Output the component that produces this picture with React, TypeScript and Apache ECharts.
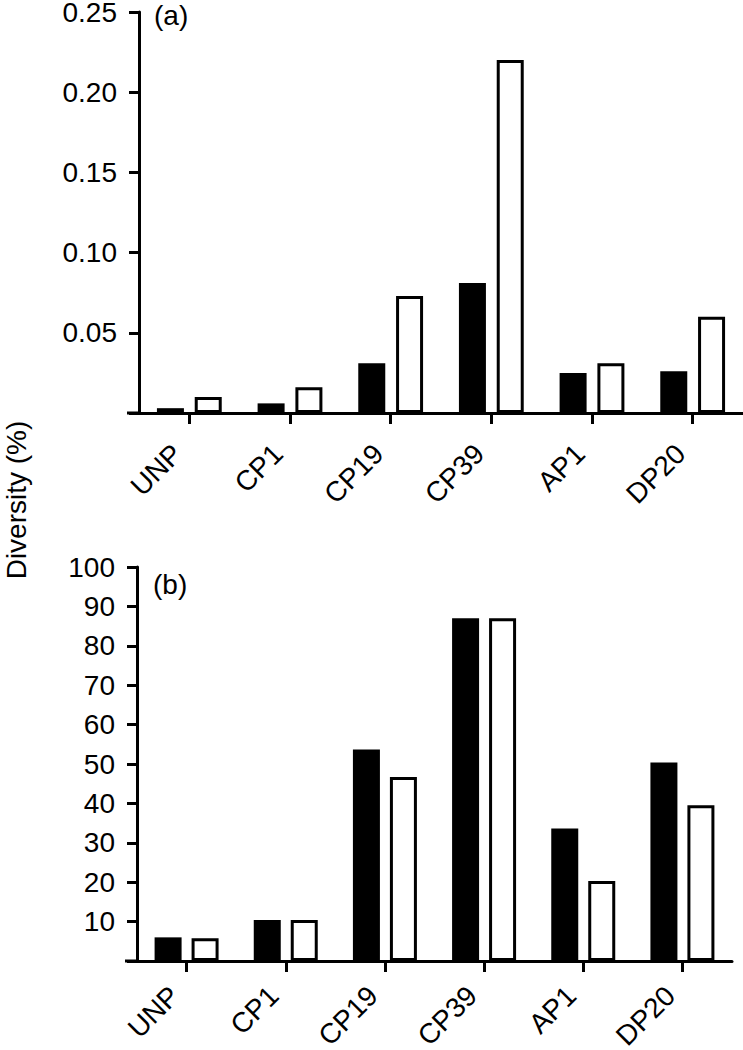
import React, { useEffect, useRef } from "react";
import * as echarts from "echarts";

const categories = ["UNP", "CP1", "CP19", "CP39", "AP1", "DP20"];
const topBlack = [0.003, 0.006, 0.031, 0.081, 0.025, 0.026];
const topWhite = [0.010, 0.016, 0.073, 0.220, 0.031, 0.060];
const bottomBlack = [6, 10.4, 53.7, 87, 33.6, 50.4];
const bottomWhite = [5.8, 10.4, 46.7, 87, 20.3, 39.5];

const FONT = "'Liberation Sans', Arial, Helvetica, sans-serif";
const FS = 28;

export default function App() {
  const ref = useRef<HTMLDivElement>(null);
  useEffect(() => {
    if (!ref.current) return;
    const chart = echarts.init(ref.current, null, { renderer: "svg" });
    const axisLine = { show: true, lineStyle: { color: "#000", width: 3 } };
    const xAxisCommon = {
      type: "category" as const,
      data: categories,
      axisLine,
      axisTick: { show: true, alignWithLabel: true, length: 11, lineStyle: { color: "#000", width: 3 } },
      splitLine: { show: false },
    };
    const xLabel = (margin: number) => ({
      rotate: 45,
      margin,
      padding: [0, 17, 0, 0],
      lineHeight: 24,
      color: "#000",
      fontSize: FS,
      fontFamily: FONT,
      interval: 0,
    });
    const yAxisCommon = {
      type: "value" as const,
      axisLine,
      axisTick: { show: true, length: 10, lineStyle: { color: "#000", width: 3 } },
      splitLine: { show: false },
    };
    chart.setOption({
      animation: false,
      backgroundColor: "#fff",
      grid: [
        { left: 139, top: 12, width: 604, height: 401, containLabel: false, outerBoundsMode: "none" },
        { left: 137, top: 567, width: 595, height: 394, containLabel: false, outerBoundsMode: "none" },
      ],
      xAxis: [
        { ...xAxisCommon, gridIndex: 0, axisLabel: xLabel(24) },
        { ...xAxisCommon, gridIndex: 1, axisLabel: xLabel(18) },
      ],
      yAxis: [
        {
          ...yAxisCommon,
          gridIndex: 0,
          min: 0,
          max: 0.25,
          interval: 0.05,
          axisLabel: {
            color: "#000",
            fontSize: FS,
            lineHeight: 22,
            fontFamily: FONT,
            margin: 22,
            formatter: (v: number) => (v === 0 ? "" : v.toFixed(2)),
          },
        },
        {
          ...yAxisCommon,
          gridIndex: 1,
          min: 0,
          max: 100,
          interval: 10,
          axisLabel: {
            color: "#000",
            fontSize: FS,
            lineHeight: 22,
            fontFamily: FONT,
            margin: 22,
            formatter: (v: number) => (v === 0 ? "" : String(v)),
          },
        },
      ],
      series: [
        {
          type: "bar",
          xAxisIndex: 0,
          yAxisIndex: 0,
          data: topBlack,
          barWidth: 27,
          barGap: "40%",
          itemStyle: { color: "#000" },
        },
        {
          type: "bar",
          xAxisIndex: 0,
          yAxisIndex: 0,
          data: topWhite,
          barWidth: 27,
          barGap: "40%",
          itemStyle: { color: "#fff", borderColor: "#000", borderWidth: 3 },
        },
        {
          type: "bar",
          xAxisIndex: 1,
          yAxisIndex: 1,
          data: bottomBlack,
          barWidth: 27,
          barGap: "37%",
          itemStyle: { color: "#000" },
        },
        {
          type: "bar",
          xAxisIndex: 1,
          yAxisIndex: 1,
          data: bottomWhite,
          barWidth: 27,
          barGap: "37%",
          itemStyle: { color: "#fff", borderColor: "#000", borderWidth: 3 },
        },
      ],
      graphic: [
        { type: "line", shape: { x1: 127, y1: 413, x2: 140, y2: 413 }, style: { stroke: "#000", lineWidth: 3 } },
        { type: "line", shape: { x1: 125, y1: 961, x2: 138, y2: 961 }, style: { stroke: "#000", lineWidth: 3 } },
        { type: "text", left: 154, top: 1, style: { text: "(a)", fontSize: FS, fontFamily: FONT, fill: "#000" } },
        { type: "text", left: 153, top: 570, style: { text: "(b)", fontSize: FS, fontFamily: FONT, fill: "#000" } },
        {
          type: "text",
          x: 16,
          y: 500,
          rotation: Math.PI / 2,
          style: {
            text: "Diversity (%)",
            fontSize: FS,
            fontFamily: FONT,
            fill: "#000",
            align: "center",
            verticalAlign: "middle",
          },
        },
      ],
    });
    return () => chart.dispose();
  }, []);
  return (
    <div
      ref={ref}
      style={{ position: "absolute", left: 0, top: 0, width: 743, height: 1050, background: "#fff" }}
    />
  );
}
